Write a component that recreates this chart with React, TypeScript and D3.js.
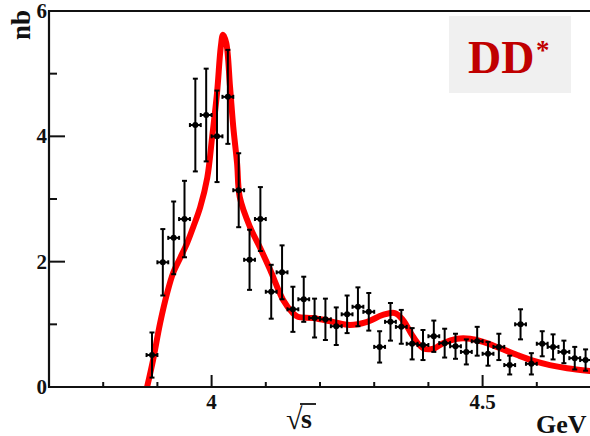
import React from "react";
import * as d3 from "d3";

const W = 590;
const H = 436;

// measured data points (sqrt(s) in GeV, cross section in nb, error)
const pointX = [
  3.89, 3.91, 3.93, 3.95, 3.97, 3.99, 4.01, 4.03, 4.05, 4.07,
  4.09, 4.11, 4.13, 4.15, 4.17, 4.19, 4.21, 4.23, 4.25, 4.27,
  4.29, 4.31, 4.33, 4.35, 4.37, 4.39, 4.41, 4.43, 4.45, 4.47,
  4.49, 4.51, 4.53, 4.55, 4.57, 4.59, 4.61, 4.63, 4.65, 4.67, 4.69,
];
const pointY = [
  0.51, 1.99, 2.38, 2.68, 4.18, 4.34, 4.0, 4.63, 3.14, 2.03,
  2.68, 1.52, 1.83, 1.24, 1.4, 1.1, 1.08, 0.97, 1.16, 1.28,
  1.2, 0.64, 1.04, 0.96, 0.69, 0.67, 0.81, 0.7, 0.65, 0.56,
  0.73, 0.53, 0.64, 0.35, 1.0, 0.37, 0.69, 0.64, 0.56, 0.46, 0.43,
];
const pointErr = [
  0.36, 0.53, 0.58, 0.61, 0.74, 0.74, 0.73, 0.75, 0.59, 0.48,
  0.51, 0.43, 0.43, 0.36, 0.36, 0.31, 0.33, 0.3, 0.3, 0.31,
  0.3, 0.25, 0.3, 0.27, 0.25, 0.24, 0.25, 0.23, 0.2, 0.2,
  0.23, 0.19, 0.21, 0.15, 0.24, 0.17, 0.2, 0.2, 0.18, 0.18, 0.17,
];
const xErr = 0.01;

// fit curve
const fitX = [
  3.881, 3.892, 3.905, 3.918, 3.929, 3.942, 3.955, 3.966, 3.979, 3.992,
  4.001, 4.01, 4.017, 4.021, 4.027, 4.034, 4.04, 4.047, 4.052, 4.071,
  4.089, 4.108, 4.132, 4.15, 4.159, 4.187, 4.224, 4.255, 4.287, 4.316,
  4.338, 4.353, 4.372, 4.39, 4.409, 4.427, 4.453, 4.477, 4.501, 4.532,
  4.564, 4.593, 4.624, 4.656, 4.698,
];
const fitY = [
  0.0, 0.43, 1.02, 1.5, 1.82, 2.06, 2.3, 2.55, 2.87, 3.34,
  3.99, 4.69, 5.43, 5.62, 5.49, 4.79, 4.15, 3.57, 3.03, 2.55,
  2.23, 1.87, 1.39, 1.18, 1.12, 1.1, 1.04, 0.99, 1.04, 1.15,
  1.18, 1.07, 0.8, 0.62, 0.61, 0.7, 0.77, 0.77, 0.72, 0.62,
  0.51, 0.42, 0.35, 0.3, 0.255,
];

const yMajor = [0, 2, 4, 6];
const yMinor = [1, 3, 5];
const xMajor = [4, 4.5];
const xMajorLabels = ["4", "4.5"];
const xMinor = [3.8, 3.9, 4.1, 4.2, 4.3, 4.4, 4.6];

const serif = "'Liberation Serif', 'Times New Roman', serif";

export default function App() {
  const x = d3.scaleLinear().domain([3.7, 4.7]).range([49, 591]);
  const y = d3.scaleLinear().domain([0, 6]).range([387, 11]);

  const line = d3
    .line<number>()
    .x((_, i) => x(fitX[i]))
    .y((_, i) => y(fitY[i]))
    .curve(d3.curveCatmullRom.alpha(0.5));

  const fitPath = line(fitX) || "";

  return (
    <svg
      width={W}
      height={H}
      style={{ position: "absolute", left: 0, top: 0, background: "#fff" }}
    >
      <defs>
        <clipPath id="plotclip">
          <rect x={49} y={11} width={542} height={376} />
        </clipPath>
      </defs>

      {/* legend box */}
      <rect x={449} y={16} width={122} height={77} fill="#f0f0f0" />
      <text
        x={468}
        y={73}
        fontFamily={serif}
        fontWeight="bold"
        fontSize={46}
        fill="#c00000"
      >
        DD
      </text>
      <text
        x={536}
        y={59}
        fontFamily={serif}
        fontWeight="bold"
        fontSize={27}
        fill="#c00000"
      >
        *
      </text>

      {/* fit curve */}
      <g clipPath="url(#plotclip)">
        <path
          d={fitPath}
          fill="none"
          stroke="#ff0000"
          strokeWidth={6}
          strokeLinejoin="round"
          strokeLinecap="round"
        />
      </g>

      {/* data points */}
      <g stroke="#000" strokeWidth={2} fill="#000">
        {pointX.map((px, i) => {
          const cx = x(px);
          const cy = y(pointY[i]);
          const y1 = y(pointY[i] + pointErr[i]);
          const y2 = y(Math.max(0, pointY[i] - pointErr[i]));
          const x1 = x(px - xErr);
          const x2 = x(px + xErr);
          return (
            <g key={i}>
              <line x1={cx} x2={cx} y1={y1} y2={y2} />
              <line x1={cx - 2.5} x2={cx + 2.5} y1={y1} y2={y1} />
              <line x1={cx - 2.5} x2={cx + 2.5} y1={y2} y2={y2} />
              <line x1={x1} x2={x2} y1={cy} y2={cy} />
              <line x1={x1} x2={x1} y1={cy - 2} y2={cy + 2} />
              <line x1={x2} x2={x2} y1={cy - 2} y2={cy + 2} />
              <circle cx={cx} cy={cy} r={3} stroke="none" />
            </g>
          );
        })}
      </g>

      {/* frame */}
      <g stroke="#111" strokeWidth={2.2} fill="none">
        <line x1={49} x2={49} y1={10} y2={388} />
        <line x1={48} x2={591} y1={11} y2={11} />
        <line x1={48} x2={591} y1={387} y2={387} />
      </g>

      {/* ticks */}
      <g stroke="#111" strokeWidth={2}>
        {yMajor.map((v) => (
          <line key={"ym" + v} x1={49} x2={65} y1={y(v)} y2={y(v)} />
        ))}
        {yMinor.map((v) => (
          <line key={"yn" + v} x1={49} x2={57} y1={y(v)} y2={y(v)} />
        ))}
        {xMajor.map((v) => (
          <line key={"xm" + v} x1={x(v)} x2={x(v)} y1={387} y2={375} />
        ))}
        {xMinor.map((v) => (
          <line key={"xn" + v} x1={x(v)} x2={x(v)} y1={387} y2={382} />
        ))}
      </g>

      {/* tick labels */}
      <g fontFamily={serif} fontWeight="bold" fontSize={21} fill="#111">
        {yMajor.map((v) => (
          <text key={"yl" + v} x={47} y={y(v) + 7} textAnchor="end">
            {String(v)}
          </text>
        ))}
        {xMajor.map((v, i) => (
          <text key={"xl" + v} x={x(v)} y={409} textAnchor="middle">
            {xMajorLabels[i]}
          </text>
        ))}
      </g>

      {/* axis titles */}
      <text
        transform="translate(30,25) rotate(-90)"
        textAnchor="middle"
        fontFamily={serif}
        fontWeight="bold"
        fontSize={27}
        fill="#111"
      >
        nb
      </text>
      <g fontFamily={serif} fontWeight="bold" fill="#111">
        <text x={286} y={429} fontSize={30}>
          √
        </text>
        <line x1={300} x2={316} y1={404} y2={404} stroke="#111" strokeWidth={1.8} />
        <text x={301} y={428} fontSize={28}>
          s
        </text>
        <text x={536} y={433} fontSize={26}>
          GeV
        </text>
      </g>
    </svg>
  );
}
